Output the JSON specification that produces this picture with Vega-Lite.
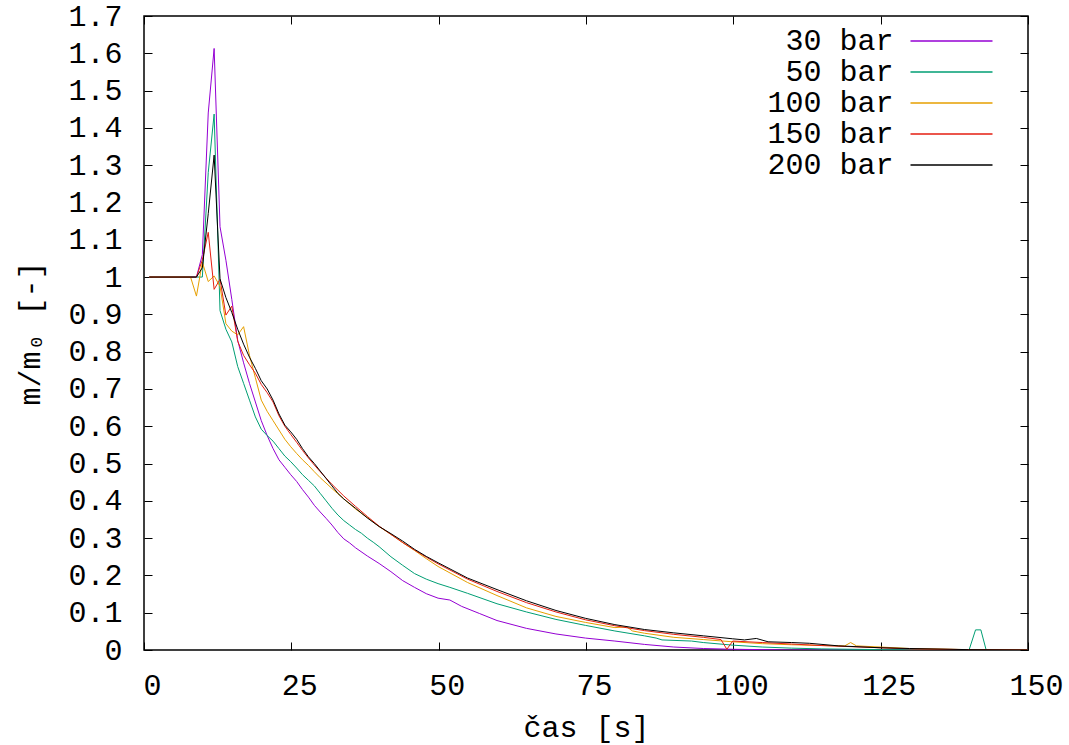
{
  "$schema": "https://vega.github.io/schema/vega-lite/v6.json",
  "width": 884,
  "height": 634,
  "autosize": "none",
  "padding": {"left": 144, "top": 16, "right": 41, "bottom": 95},
  "background": "white",
  "config": {
    "view": {"stroke": "black", "strokeWidth": 1.5},
    "axis": {
      "domain": false,
      "grid": false,
      "tickColor": "black",
      "tickWidth": 1,
      "tickSize": -8,
      "labelFont": "Liberation Mono",
      "labelFontSize": 30,
      "labelColor": "black",
      "labelFlush": false,
      "titleFont": "Liberation Mono",
      "titleFontSize": 30,
      "titleFontWeight": "normal",
      "titleColor": "black"
    },
    "legend": {
      "labelFont": "Liberation Mono",
      "labelFontSize": 30,
      "labelColor": "black"
    }
  },
  "data": {"values": [
    {"s":"30 bar","t":0.9,"m":1},{"s":"30 bar","t":7.9,"m":1},{"s":"30 bar","t":8.9,"m":1},{"s":"30 bar","t":9.9,"m":1.06},{"s":"30 bar","t":10.9,"m":1.44},{"s":"30 bar","t":11.9,"m":1.613},{"s":"30 bar","t":12.9,"m":1.135},{"s":"30 bar","t":13.9,"m":1.045},{"s":"30 bar","t":14.9,"m":0.94},{"s":"30 bar","t":15.9,"m":0.83},{"s":"30 bar","t":16.9,"m":0.77},{"s":"30 bar","t":17.9,"m":0.715},{"s":"30 bar","t":18.9,"m":0.665},{"s":"30 bar","t":19.9,"m":0.615},{"s":"30 bar","t":20.9,"m":0.575},{"s":"30 bar","t":21.9,"m":0.54},{"s":"30 bar","t":22.9,"m":0.51},{"s":"30 bar","t":23.9,"m":0.49},{"s":"30 bar","t":24.9,"m":0.47},{"s":"30 bar","t":25.9,"m":0.452},{"s":"30 bar","t":26.9,"m":0.43},{"s":"30 bar","t":27.9,"m":0.41},{"s":"30 bar","t":28.9,"m":0.388},{"s":"30 bar","t":29.9,"m":0.37},{"s":"30 bar","t":30.9,"m":0.353},{"s":"30 bar","t":31.9,"m":0.335},{"s":"30 bar","t":32.9,"m":0.315},{"s":"30 bar","t":33.9,"m":0.298},{"s":"30 bar","t":34.9,"m":0.287},{"s":"30 bar","t":35.9,"m":0.274},{"s":"30 bar","t":37.9,"m":0.252},{"s":"30 bar","t":39.9,"m":0.232},{"s":"30 bar","t":41.9,"m":0.21},{"s":"30 bar","t":43.9,"m":0.186},{"s":"30 bar","t":45.9,"m":0.168},{"s":"30 bar","t":47.9,"m":0.151},{"s":"30 bar","t":49.9,"m":0.139},{"s":"30 bar","t":51.9,"m":0.134},{"s":"30 bar","t":53.9,"m":0.117},{"s":"30 bar","t":56.9,"m":0.098},{"s":"30 bar","t":59.9,"m":0.079},{"s":"30 bar","t":64.9,"m":0.058},{"s":"30 bar","t":69.9,"m":0.043},{"s":"30 bar","t":74.9,"m":0.032},{"s":"30 bar","t":79.9,"m":0.024},{"s":"30 bar","t":84.9,"m":0.015},{"s":"30 bar","t":89.9,"m":0.008},{"s":"30 bar","t":94.9,"m":0.004},{"s":"30 bar","t":99.9,"m":0.002},{"s":"30 bar","t":109.9,"m":0},{"s":"30 bar","t":149.9,"m":0},
    {"s":"50 bar","t":0.9,"m":1},{"s":"50 bar","t":9.9,"m":1},{"s":"50 bar","t":10.9,"m":1.28},{"s":"50 bar","t":11.9,"m":1.437},{"s":"50 bar","t":12.9,"m":0.91},{"s":"50 bar","t":13.9,"m":0.86},{"s":"50 bar","t":14.9,"m":0.826},{"s":"50 bar","t":15.9,"m":0.76},{"s":"50 bar","t":16.9,"m":0.715},{"s":"50 bar","t":17.9,"m":0.67},{"s":"50 bar","t":18.9,"m":0.625},{"s":"50 bar","t":19.9,"m":0.592},{"s":"50 bar","t":20.9,"m":0.575},{"s":"50 bar","t":21.9,"m":0.56},{"s":"50 bar","t":22.9,"m":0.54},{"s":"50 bar","t":23.9,"m":0.52},{"s":"50 bar","t":24.9,"m":0.505},{"s":"50 bar","t":25.9,"m":0.488},{"s":"50 bar","t":26.9,"m":0.47},{"s":"50 bar","t":27.9,"m":0.455},{"s":"50 bar","t":28.9,"m":0.44},{"s":"50 bar","t":29.9,"m":0.42},{"s":"50 bar","t":30.9,"m":0.4},{"s":"50 bar","t":31.9,"m":0.38},{"s":"50 bar","t":32.9,"m":0.362},{"s":"50 bar","t":33.9,"m":0.347},{"s":"50 bar","t":34.9,"m":0.335},{"s":"50 bar","t":35.9,"m":0.323},{"s":"50 bar","t":36.9,"m":0.313},{"s":"50 bar","t":37.9,"m":0.3},{"s":"50 bar","t":38.9,"m":0.289},{"s":"50 bar","t":39.9,"m":0.277},{"s":"50 bar","t":41.9,"m":0.25},{"s":"50 bar","t":43.9,"m":0.227},{"s":"50 bar","t":45.9,"m":0.205},{"s":"50 bar","t":47.9,"m":0.19},{"s":"50 bar","t":49.9,"m":0.178},{"s":"50 bar","t":51.9,"m":0.168},{"s":"50 bar","t":54.9,"m":0.152},{"s":"50 bar","t":59.9,"m":0.124},{"s":"50 bar","t":64.9,"m":0.102},{"s":"50 bar","t":69.9,"m":0.082},{"s":"50 bar","t":74.9,"m":0.066},{"s":"50 bar","t":79.9,"m":0.051},{"s":"50 bar","t":84.9,"m":0.038},{"s":"50 bar","t":86.9,"m":0.032},{"s":"50 bar","t":87.9,"m":0.027},{"s":"50 bar","t":92.9,"m":0.024},{"s":"50 bar","t":94.9,"m":0.02},{"s":"50 bar","t":99.9,"m":0.013},{"s":"50 bar","t":104.9,"m":0.008},{"s":"50 bar","t":109.9,"m":0.005},{"s":"50 bar","t":114.9,"m":0.003},{"s":"50 bar","t":124.9,"m":0.001},{"s":"50 bar","t":140.0,"m":0},{"s":"50 bar","t":141.1,"m":0.054},{"s":"50 bar","t":142.0,"m":0.054},{"s":"50 bar","t":142.9,"m":0},{"s":"50 bar","t":149.9,"m":0},
    {"s":"100 bar","t":0.9,"m":1},{"s":"100 bar","t":7.9,"m":1},{"s":"100 bar","t":8.9,"m":0.949},{"s":"100 bar","t":9.9,"m":1.04},{"s":"100 bar","t":10.9,"m":0.988},{"s":"100 bar","t":11.9,"m":1.003},{"s":"100 bar","t":12.9,"m":0.975},{"s":"100 bar","t":13.9,"m":0.875},{"s":"100 bar","t":14.9,"m":0.855},{"s":"100 bar","t":15.9,"m":0.845},{"s":"100 bar","t":16.9,"m":0.867},{"s":"100 bar","t":17.9,"m":0.79},{"s":"100 bar","t":18.9,"m":0.73},{"s":"100 bar","t":19.9,"m":0.67},{"s":"100 bar","t":20.9,"m":0.64},{"s":"100 bar","t":21.9,"m":0.615},{"s":"100 bar","t":22.9,"m":0.59},{"s":"100 bar","t":23.9,"m":0.565},{"s":"100 bar","t":24.9,"m":0.545},{"s":"100 bar","t":25.9,"m":0.527},{"s":"100 bar","t":26.9,"m":0.51},{"s":"100 bar","t":27.9,"m":0.495},{"s":"100 bar","t":28.9,"m":0.478},{"s":"100 bar","t":29.9,"m":0.462},{"s":"100 bar","t":31.9,"m":0.433},{"s":"100 bar","t":33.9,"m":0.405},{"s":"100 bar","t":35.9,"m":0.378},{"s":"100 bar","t":37.9,"m":0.355},{"s":"100 bar","t":39.9,"m":0.331},{"s":"100 bar","t":41.9,"m":0.31},{"s":"100 bar","t":43.9,"m":0.288},{"s":"100 bar","t":45.9,"m":0.267},{"s":"100 bar","t":47.9,"m":0.245},{"s":"100 bar","t":49.9,"m":0.224},{"s":"100 bar","t":54.9,"m":0.181},{"s":"100 bar","t":59.9,"m":0.146},{"s":"100 bar","t":64.9,"m":0.113},{"s":"100 bar","t":69.9,"m":0.09},{"s":"100 bar","t":74.9,"m":0.074},{"s":"100 bar","t":79.9,"m":0.06},{"s":"100 bar","t":81.9,"m":0.062},{"s":"100 bar","t":82.9,"m":0.051},{"s":"100 bar","t":84.9,"m":0.045},{"s":"100 bar","t":89.9,"m":0.034},{"s":"100 bar","t":94.9,"m":0.028},{"s":"100 bar","t":99.9,"m":0.022},{"s":"100 bar","t":104.9,"m":0.017},{"s":"100 bar","t":109.9,"m":0.014},{"s":"100 bar","t":114.9,"m":0.012},{"s":"100 bar","t":118.9,"m":0.011},{"s":"100 bar","t":119.9,"m":0.02},{"s":"100 bar","t":120.9,"m":0.011},{"s":"100 bar","t":124.9,"m":0.008},{"s":"100 bar","t":129.9,"m":0.004},{"s":"100 bar","t":139.9,"m":0.001},{"s":"100 bar","t":149.9,"m":0},
    {"s":"150 bar","t":0.9,"m":1},{"s":"150 bar","t":8.9,"m":1},{"s":"150 bar","t":9.9,"m":1.046},{"s":"150 bar","t":10.9,"m":1.12},{"s":"150 bar","t":11.9,"m":0.967},{"s":"150 bar","t":12.9,"m":0.994},{"s":"150 bar","t":13.9,"m":0.898},{"s":"150 bar","t":14.9,"m":0.922},{"s":"150 bar","t":15.9,"m":0.828},{"s":"150 bar","t":16.9,"m":0.79},{"s":"150 bar","t":17.9,"m":0.765},{"s":"150 bar","t":18.9,"m":0.742},{"s":"150 bar","t":19.9,"m":0.712},{"s":"150 bar","t":20.9,"m":0.69},{"s":"150 bar","t":21.9,"m":0.665},{"s":"150 bar","t":22.9,"m":0.628},{"s":"150 bar","t":23.9,"m":0.6},{"s":"150 bar","t":24.9,"m":0.578},{"s":"150 bar","t":25.9,"m":0.557},{"s":"150 bar","t":26.9,"m":0.535},{"s":"150 bar","t":27.9,"m":0.515},{"s":"150 bar","t":28.9,"m":0.496},{"s":"150 bar","t":29.9,"m":0.478},{"s":"150 bar","t":31.9,"m":0.444},{"s":"150 bar","t":33.9,"m":0.413},{"s":"150 bar","t":35.9,"m":0.385},{"s":"150 bar","t":37.9,"m":0.358},{"s":"150 bar","t":39.9,"m":0.332},{"s":"150 bar","t":41.9,"m":0.31},{"s":"150 bar","t":43.9,"m":0.288},{"s":"150 bar","t":45.9,"m":0.268},{"s":"150 bar","t":47.9,"m":0.249},{"s":"150 bar","t":49.9,"m":0.231},{"s":"150 bar","t":54.9,"m":0.19},{"s":"150 bar","t":59.9,"m":0.157},{"s":"150 bar","t":64.9,"m":0.127},{"s":"150 bar","t":69.9,"m":0.102},{"s":"150 bar","t":74.9,"m":0.081},{"s":"150 bar","t":79.9,"m":0.065},{"s":"150 bar","t":84.9,"m":0.052},{"s":"150 bar","t":89.9,"m":0.042},{"s":"150 bar","t":94.9,"m":0.034},{"s":"150 bar","t":97.9,"m":0.028},{"s":"150 bar","t":98.9,"m":0.002},{"s":"150 bar","t":99.9,"m":0.024},{"s":"150 bar","t":104.9,"m":0.02},{"s":"150 bar","t":109.9,"m":0.016},{"s":"150 bar","t":114.9,"m":0.012},{"s":"150 bar","t":119.9,"m":0.009},{"s":"150 bar","t":124.9,"m":0.006},{"s":"150 bar","t":129.9,"m":0.003},{"s":"150 bar","t":139.9,"m":0.001},{"s":"150 bar","t":149.9,"m":0},
    {"s":"200 bar","t":0.9,"m":1},{"s":"200 bar","t":8.9,"m":1},{"s":"200 bar","t":9.9,"m":1.025},{"s":"200 bar","t":10.9,"m":1.17},{"s":"200 bar","t":11.9,"m":1.327},{"s":"200 bar","t":12.9,"m":0.995},{"s":"200 bar","t":13.9,"m":0.945},{"s":"200 bar","t":14.9,"m":0.905},{"s":"200 bar","t":15.9,"m":0.86},{"s":"200 bar","t":16.9,"m":0.82},{"s":"200 bar","t":17.9,"m":0.785},{"s":"200 bar","t":18.9,"m":0.755},{"s":"200 bar","t":19.9,"m":0.722},{"s":"200 bar","t":20.9,"m":0.7},{"s":"200 bar","t":21.9,"m":0.67},{"s":"200 bar","t":22.9,"m":0.633},{"s":"200 bar","t":23.9,"m":0.603},{"s":"200 bar","t":24.9,"m":0.585},{"s":"200 bar","t":25.9,"m":0.565},{"s":"200 bar","t":26.9,"m":0.54},{"s":"200 bar","t":27.9,"m":0.518},{"s":"200 bar","t":28.9,"m":0.5},{"s":"200 bar","t":29.9,"m":0.48},{"s":"200 bar","t":30.9,"m":0.46},{"s":"200 bar","t":31.9,"m":0.44},{"s":"200 bar","t":32.9,"m":0.42},{"s":"200 bar","t":33.9,"m":0.405},{"s":"200 bar","t":35.9,"m":0.38},{"s":"200 bar","t":37.9,"m":0.354},{"s":"200 bar","t":39.9,"m":0.331},{"s":"200 bar","t":41.9,"m":0.312},{"s":"200 bar","t":43.9,"m":0.292},{"s":"200 bar","t":45.9,"m":0.27},{"s":"200 bar","t":47.9,"m":0.251},{"s":"200 bar","t":49.9,"m":0.234},{"s":"200 bar","t":54.9,"m":0.193},{"s":"200 bar","t":59.9,"m":0.162},{"s":"200 bar","t":64.9,"m":0.132},{"s":"200 bar","t":69.9,"m":0.106},{"s":"200 bar","t":74.9,"m":0.085},{"s":"200 bar","t":79.9,"m":0.068},{"s":"200 bar","t":84.9,"m":0.055},{"s":"200 bar","t":89.9,"m":0.046},{"s":"200 bar","t":94.9,"m":0.038},{"s":"200 bar","t":99.9,"m":0.03},{"s":"200 bar","t":101.9,"m":0.027},{"s":"200 bar","t":103.9,"m":0.031},{"s":"200 bar","t":105.9,"m":0.022},{"s":"200 bar","t":109.9,"m":0.02},{"s":"200 bar","t":112.9,"m":0.018},{"s":"200 bar","t":117.9,"m":0.011},{"s":"200 bar","t":124.9,"m":0.006},{"s":"200 bar","t":129.9,"m":0.004},{"s":"200 bar","t":139.9,"m":0.001},{"s":"200 bar","t":149.9,"m":0}
  ]},
  "layer": [
    {
      "mark": {"type": "line", "strokeWidth": 1, "clip": true},
      "encoding": {
        "x": {"field": "t", "type": "quantitative", "scale": {"domain": [0, 150], "nice": false, "zero": false},
              "axis": {"orient": "bottom", "values": [0, 25, 50, 75, 100, 125, 150], "title": "čas [s]", "labelPadding": 28, "labelOffset": 8, "titlePadding": 12}},
        "y": {"field": "m", "type": "quantitative", "scale": {"domain": [0, 1.7], "nice": false},
              "axis": {"orient": "left", "values": [0, 0.1, 0.2, 0.3, 0.4, 0.5, 0.6, 0.7, 0.8, 0.9, 1, 1.1, 1.2, 1.3, 1.4, 1.5, 1.6, 1.7], "format": "~g", "title": "m/m₀ [-]", "labelPadding": 30, "titlePadding": 22}},
        "color": {"field": "s", "type": "nominal",
                  "scale": {"domain": ["30 bar", "50 bar", "100 bar", "150 bar", "200 bar"], "range": ["#9400d3", "#009e73", "#e69f00", "#e51e10", "#000000"]},
                  "legend": {"title": null, "orient": "none", "legendX": 766, "legendY": 10, "padding": 0,
                             "symbolType": "M-5.857,0H5.857", "symbolSize": 196, "symbolStrokeWidth": 1.5, "symbolOffset": 26.5,
                             "labelAlign": "right", "labelOffset": -73, "rowPadding": 1}}
      }
    },
    {
      "mark": {"type": "line", "opacity": 0},
      "encoding": {
        "x": {"field": "t", "type": "quantitative", "axis": {"orient": "top", "values": [0, 25, 50, 75, 100, 125, 150], "labels": false, "title": null}},
        "y": {"field": "m", "type": "quantitative", "axis": {"orient": "right", "values": [0, 0.1, 0.2, 0.3, 0.4, 0.5, 0.6, 0.7, 0.8, 0.9, 1, 1.1, 1.2, 1.3, 1.4, 1.5, 1.6, 1.7], "labels": false, "title": null}},
        "detail": {"field": "s", "type": "nominal"}
      }
    }
  ],
  "resolve": {"axis": {"x": "independent", "y": "independent"}}
}
